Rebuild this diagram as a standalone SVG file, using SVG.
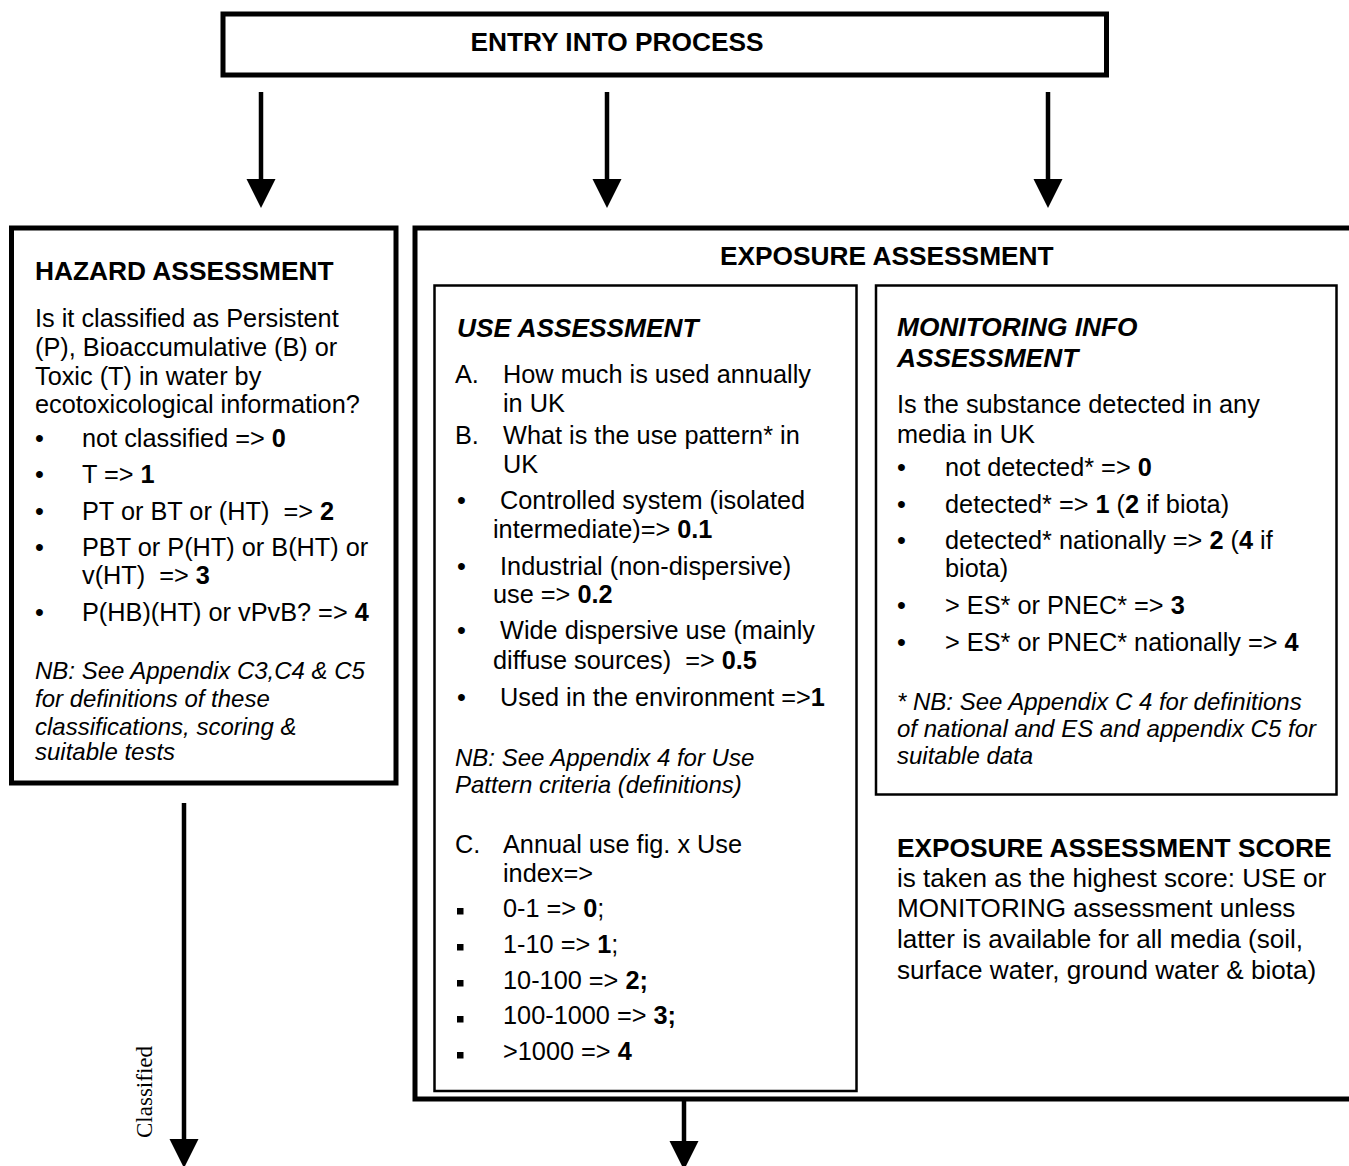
<svg xmlns="http://www.w3.org/2000/svg" width="1349" height="1166" viewBox="0 0 1349 1166">
<defs>
<marker id="ah" markerUnits="userSpaceOnUse" markerWidth="30" markerHeight="30" refX="0" refY="14.5" orient="auto" viewBox="0 0 30 30">
<path d="M0,0 L29,14.5 L0,29 z" fill="#000"/>
</marker>
<style>
text{font-family:"Liberation Sans",Arial,sans-serif;fill:#000;white-space:pre}
.h{font-weight:bold;font-size:26.3px}
.hi{font-weight:bold;font-style:italic;font-size:26.3px}
.b{font-size:25.3px}
.s{font-size:26.1px}
.nb{font-style:italic;font-size:24px}
.bd{font-weight:bold}
.thick{fill:#fff;stroke:#000;stroke-width:5}
.thin{fill:none;stroke:#000;stroke-width:2.5}
.conn line{stroke:#000;stroke-width:4.5;marker-end:url(#ah)}
.lbl{font-family:"Liberation Serif","Times New Roman",serif;font-size:23px}
</style>
</defs>
<rect width="1349" height="1166" fill="#fff"/>

<g id="entry">
<rect class="thick" x="223" y="14" width="883.5" height="61"/>
<text class="h" x="617" y="51" text-anchor="middle">ENTRY INTO PROCESS</text>
</g>

<g id="hazard">
<rect class="thick" x="11.5" y="228" width="384.5" height="555"/>
<text class="h" x="35" y="280">HAZARD ASSESSMENT</text>
<text class="b" x="35" y="326.5">Is it classified as Persistent</text>
<text class="b" x="35" y="356">(P), Bioaccumulative (B) or</text>
<text class="b" x="35" y="385">Toxic (T) in water by</text>
<text class="b" x="35" y="412.5">ecotoxicological information?</text>
<text class="b" x="35" y="447">•</text>
<text class="b" x="82" y="447">not classified =&gt; <tspan class="bd">0</tspan></text>
<text class="b" x="35" y="483">•</text>
<text class="b" x="82" y="483">T =&gt; <tspan class="bd">1</tspan></text>
<text class="b" x="35" y="519.5">•</text>
<text class="b" x="82" y="519.5">PT or BT or (HT)  =&gt; <tspan class="bd">2</tspan></text>
<text class="b" x="35" y="555.5">•</text>
<text class="b" x="82" y="555.5">PBT or P(HT) or B(HT) or</text>
<text class="b" x="82" y="584">v(HT)  =&gt; <tspan class="bd">3</tspan></text>
<text class="b" x="35" y="621">•</text>
<text class="b" x="82" y="621">P(HB)(HT) or vPvB? =&gt; <tspan class="bd">4</tspan></text>
<text class="nb" x="35" y="679">NB: See Appendix C3,C4 &amp; C5</text>
<text class="nb" x="35" y="707">for definitions of these</text>
<text class="nb" x="35" y="735">classifications, scoring &amp;</text>
<text class="nb" x="35" y="760">suitable tests</text>
</g>

<g id="exposure">
<rect class="thick" x="415" y="228" width="950" height="871"/>
<text class="h" x="720" y="265">EXPOSURE ASSESSMENT</text>
</g>

<g id="use-assessment">
<rect class="thin" x="434.5" y="285.5" width="422" height="805.5"/>
<text class="hi" x="457" y="336.5">USE ASSESSMENT</text>
<text class="b" x="455" y="383">A.</text>
<text class="b" x="503" y="383">How much is used annually</text>
<text class="b" x="503" y="411.5">in UK</text>
<text class="b" x="455" y="444">B.</text>
<text class="b" x="503" y="444">What is the use pattern* in</text>
<text class="b" x="503" y="472.5">UK</text>
<text class="b" x="457" y="508.5">•</text>
<text class="b" x="493" y="508.5"> Controlled system (isolated</text>
<text class="b" x="493" y="537.5">intermediate)=&gt; <tspan class="bd">0.1</tspan></text>
<text class="b" x="457" y="574.5">•</text>
<text class="b" x="493" y="574.5"> Industrial (non-dispersive)</text>
<text class="b" x="493" y="603">use =&gt; <tspan class="bd">0.2</tspan></text>
<text class="b" x="457" y="639">•</text>
<text class="b" x="493" y="639"> Wide dispersive use (mainly</text>
<text class="b" x="493" y="668.5">diffuse sources)  =&gt; <tspan class="bd">0.5</tspan></text>
<text class="b" x="457" y="705.5">•</text>
<text class="b" x="493" y="705.5"> Used in the environment =&gt;<tspan class="bd">1</tspan></text>
<text class="nb" x="455" y="765.5">NB: See Appendix 4 for Use</text>
<text class="nb" x="455" y="792.5">Pattern criteria (definitions)</text>
<text class="b" x="455" y="852.5">C.</text>
<text class="b" x="503" y="852.5">Annual use fig. x Use</text>
<text class="b" x="503" y="881.5">index=&gt;</text>
<g id="sq">
<rect x="457" y="908" width="6.5" height="6.5"/>
<rect x="457" y="944" width="6.5" height="6.5"/>
<rect x="457" y="980" width="6.5" height="6.5"/>
<rect x="457" y="1016" width="6.5" height="6.5"/>
<rect x="457" y="1052" width="6.5" height="6.5"/>
</g>
<text class="b" x="503" y="916.5">0-1 =&gt; <tspan class="bd">0</tspan>;</text>
<text class="b" x="503" y="952.5">1-10 =&gt; <tspan class="bd">1</tspan>;</text>
<text class="b" x="503" y="988.5">10-100 =&gt; <tspan class="bd">2;</tspan></text>
<text class="b" x="503" y="1024">100-1000 =&gt; <tspan class="bd">3;</tspan></text>
<text class="b" x="503" y="1060">&gt;1000 =&gt; <tspan class="bd">4</tspan></text>
</g>

<g id="monitoring">
<rect class="thin" x="876" y="285.5" width="460.5" height="509"/>
<text class="hi" x="897" y="335.5">MONITORING INFO</text>
<text class="hi" x="897" y="367">ASSESSMENT</text>
<text class="b" x="897" y="413">Is the substance detected in any</text>
<text class="b" x="897" y="442.5">media in UK</text>
<text class="b" x="897" y="476">•</text>
<text class="b" x="945" y="476">not detected* =&gt; <tspan class="bd">0</tspan></text>
<text class="b" x="897" y="512.5">•</text>
<text class="b" x="945" y="512.5">detected* =&gt; <tspan class="bd">1</tspan> (<tspan class="bd">2</tspan> if biota)</text>
<text class="b" x="897" y="548.5">•</text>
<text class="b" x="945" y="548.5">detected* nationally =&gt; <tspan class="bd">2</tspan> (<tspan class="bd">4</tspan> if</text>
<text class="b" x="945" y="577">biota)</text>
<text class="b" x="897" y="614">•</text>
<text class="b" x="945" y="614">&gt; ES* or PNEC* =&gt; <tspan class="bd">3</tspan></text>
<text class="b" x="897" y="651">•</text>
<text class="b" x="945" y="651">&gt; ES* or PNEC* nationally =&gt; <tspan class="bd">4</tspan></text>
<text class="nb" x="897" y="710">* NB: See Appendix C 4 for definitions</text>
<text class="nb" x="897" y="737">of national and ES and appendix C5 for</text>
<text class="nb" x="897" y="763.5">suitable data</text>
</g>

<g id="exposure-score">
<text class="h" x="897" y="857">EXPOSURE ASSESSMENT SCORE</text>
<text class="s" x="897" y="886.5">is taken as the highest score: USE or</text>
<text class="s" x="897" y="917">MONITORING assessment unless</text>
<text class="s" x="897" y="948">latter is available for all media (soil,</text>
<text class="s" x="897" y="978.5">surface water, ground water &amp; biota)</text>
</g>

<g id="connectors" class="conn">
<line x1="261" y1="92" x2="261" y2="179"/>
<line x1="607" y1="92" x2="607" y2="179"/>
<line x1="1048" y1="92" x2="1048" y2="179"/>
<line x1="184" y1="803" x2="184" y2="1139"/>
<line x1="684" y1="1101" x2="684" y2="1141"/>
<text class="lbl" transform="translate(152,1138) rotate(-90)">Classified</text>
</g>
</svg>
